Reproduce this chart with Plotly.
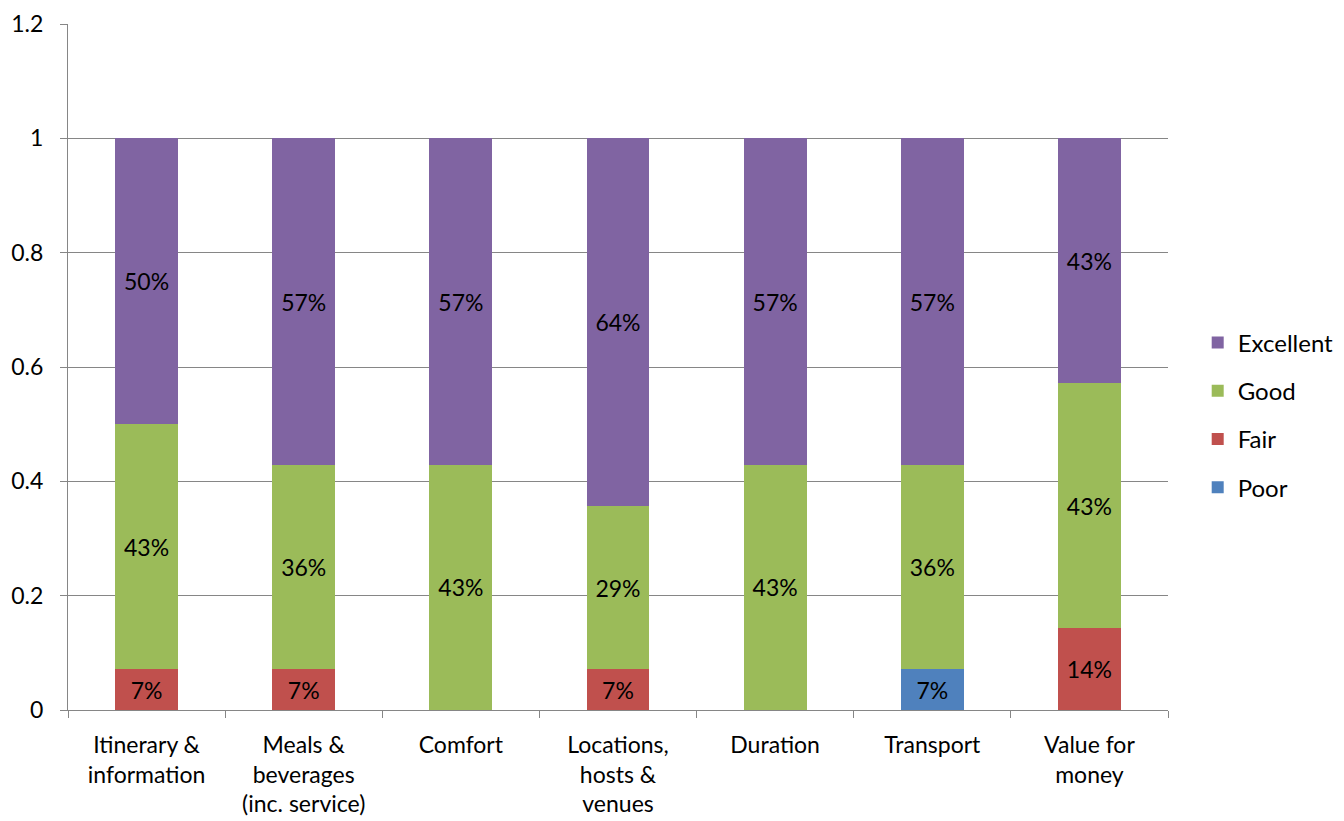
import plotly.graph_objects as go

categories = ["Itinerary &<br>information", "Meals &<br>beverages<br>(inc. service)", "Comfort",
              "Locations,<br>hosts &<br>venues", "Duration", "Transport", "Value for<br>money"]
poor = [0, 0, 0, 0, 0, 0.0714, 0]
fair = [0.0714, 0.0714, 0, 0.0714, 0, 0, 0.1429]
good = [0.4286, 0.3571, 0.4286, 0.2857, 0.4286, 0.3571, 0.4286]
excellent = [0.5, 0.5714, 0.5714, 0.6429, 0.5714, 0.5714, 0.4286]
y_ticks = [0, 0.2, 0.4, 0.6, 0.8, 1, 1.2]
y_tick_labels = ["0", "0.2", "0.4", "0.6", "0.8", "1", "1.2"]

series = [("Poor", poor, "#4F81BD"), ("Fair", fair, "#C0504D"),
          ("Good", good, "#9BBB59"), ("Excellent", excellent, "#8064A2")]

FONT = "Lato, Carlito, Calibri, sans-serif"
FS = 23

fig = go.Figure()
for i, (name, vals, color) in enumerate(series):
    fig.add_trace(go.Bar(
        x=categories, y=vals, name=name, marker_color=color,
        marker_line_width=0, width=0.4,
        text=[f"{round(v * 100)}%" if v > 0 else "" for v in vals],
        textposition="inside", insidetextanchor="middle", textangle=0,
        textfont=dict(color="black", size=FS, family=FONT),
        legendgroup=name, legendrank=10 - i, hoverinfo="skip",
    ))

fig.update_layout(
    barmode="stack",
    width=1336, height=813,
    margin=dict(l=60, r=176, t=16, b=111, autoexpand=False),
    paper_bgcolor="white", plot_bgcolor="white",
    font=dict(family=FONT, size=FS, color="black"),
    showlegend=True,
    legend=dict(tracegroupgap=14,
                x=1.027, y=0.43, xanchor="left", yanchor="middle",
                font=dict(size=24), itemwidth=30),
    uniformtext=dict(minsize=FS, mode="show"),
    xaxis=dict(showline=True, linecolor="#868686", linewidth=1,
               ticks="outside", tickson="boundaries", ticklen=7, tickcolor="#868686",
               showgrid=False, tickfont=dict(size=FS), automargin=False,
               ticklabelstandoff=14),
    yaxis=dict(range=[0, 1.2], tickvals=y_ticks, ticktext=y_tick_labels,
               showline=True, linecolor="#868686", linewidth=1,
               ticks="outside", ticklen=7, tickcolor="#868686",
               showgrid=True, gridcolor="#868686", gridwidth=1,
               zeroline=False, tickfont=dict(size=FS), automargin=False,
               ticklabelstandoff=12, ticklabeloverflow="allow"),
)

fig.write_html("out.html")
